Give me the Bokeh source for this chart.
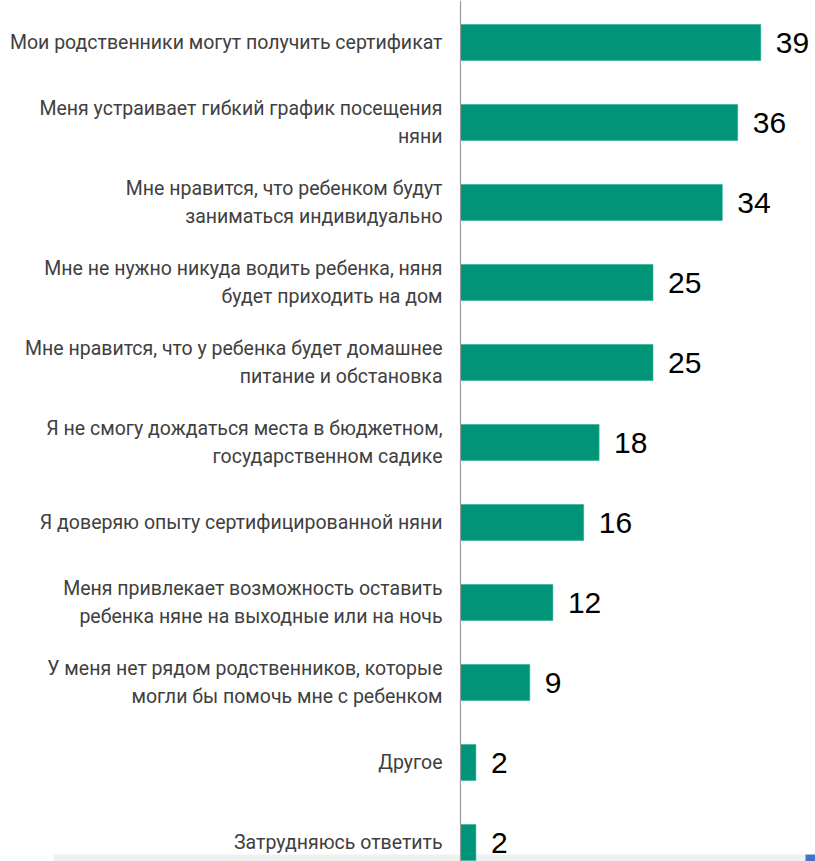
from bokeh.plotting import figure
from bokeh.models import ColumnDataSource, Range1d, Span, BoxAnnotation
from bokeh.core.properties import value
from bokeh.embed import file_html
from bokeh.resources import INLINE

labels = [
    "Мои родственники могут получить сертификат",
    "Меня устраивает гибкий график посещения\nняни",
    "Мне нравится, что ребенком будут\nзаниматься индивидуально",
    "Мне не нужно никуда водить ребенка, няня\nбудет приходить на дом",
    "Мне нравится, что у ребенка будет домашнее\nпитание и обстановка",
    "Я не смогу дождаться места в бюджетном,\nгосударственном садике",
    "Я доверяю опыту сертифицированной няни",
    "Меня привлекает возможность оставить\nребенка няне на выходные или на ночь",
    "У меня нет рядом родственников, которые\nмогли бы помочь мне с ребенком",
    "Другое",
    "Затрудняюсь ответить",
]
values = [39, 36, 34, 25, 25, 18, 16, 12, 9, 2, 2]

W, H = 815, 861
px_per_unit = 7.7
x0_px = 460
row_h = 80
first_c = 42

src = ColumnDataSource(dict(
    y=list(range(len(values))),
    v=values,
    lab=labels,
    vt=[str(v) for v in values],
    zero=[0] * len(values),
))

p = figure(width=W, height=H, output_backend="svg", toolbar_location=None,
           x_range=Range1d(-x0_px / px_per_unit, (W - x0_px) / px_per_unit),
           y_range=Range1d((H - first_c) / row_h, -first_c / row_h),
           min_border=0)
p.axis.visible = False
p.grid.visible = False
p.outline_line_color = None
p.background_fill_color = "white"
p.border_fill_color = "white"

# bottom decorative band
p.add_layout(BoxAnnotation(left=-(x0_px - 53) / px_per_unit, right=(805 - x0_px) / px_per_unit,
                           top=(854 - first_c) / row_h, bottom=(H - first_c) / row_h,
                           fill_color="#f0f0f0", fill_alpha=1, line_color=None, level="underlay"))
p.add_layout(BoxAnnotation(left=(805 - x0_px) / px_per_unit, right=(W - x0_px) / px_per_unit,
                           top=(854 - first_c) / row_h, bottom=(H - first_c) / row_h,
                           fill_color="#4472c4", fill_alpha=1, line_color=None))

p.hbar(y="y", left="zero", right="v", height=0.45, source=src,
       fill_color="#009479", line_color="#2fae98", line_width=0.6)

p.add_layout(Span(location=0, dimension="height", line_color="#9a9a9a", line_width=1.2))

p.text(x="zero", y="y", text="lab", source=src, x_offset=-18,
       text_align="right", text_baseline="middle",
       text_font=value("Roboto"), text_font_size="19.5px", text_color="#404040",
       text_line_height=1.2)

p.text(x="v", y="y", text="vt", source=src, x_offset=15,
       text_align="left", text_baseline="middle",
       text_font=value("Liberation Sans"), text_font_size="30px", text_color="#000000")

open("out.html", "w").write(file_html(p, INLINE))
